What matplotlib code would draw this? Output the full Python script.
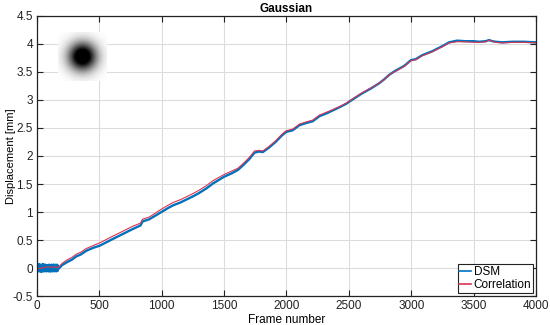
import numpy as np
import matplotlib
matplotlib.use('Agg')
import matplotlib.pyplot as plt
from matplotlib.lines import Line2D

plt.rcParams['font.family'] = ['Liberation Sans', 'DejaVu Sans']

# Correlation curve (red)
corr_frames = [0, 20, 40, 60, 80, 100, 120, 140, 160, 175, 200, 237, 280, 317, 350, 397,
               450, 504, 600, 700, 771, 830, 845, 900, 997, 1050, 1091, 1150, 1251, 1300,
               1357, 1411, 1500, 1560, 1610, 1650, 1700, 1744, 1780, 1810, 1860, 1917, 1960,
               1997, 2050, 2104, 2160, 2210, 2264, 2330, 2424, 2477, 2517, 2600, 2680, 2744,
               2784, 2824, 2864, 2944, 2997, 3037, 3088, 3168, 3248, 3304, 3368, 3432, 3500,
               3544, 3597, 3624, 3650, 3677, 3730, 3810, 3900, 4000]
corr_vals = [0.0, -0.01, 0.0, 0.01, 0.02, 0.02, 0.01, 0.02, 0.01, 0.02, 0.08, 0.14, 0.19,
             0.25, 0.28, 0.35, 0.40, 0.45, 0.56, 0.67, 0.75, 0.80, 0.87, 0.91, 1.05, 1.12,
             1.17, 1.22, 1.33, 1.39, 1.47, 1.56, 1.67, 1.73, 1.78, 1.86, 1.97, 2.09, 2.10,
             2.09, 2.17, 2.28, 2.38, 2.45, 2.48, 2.57, 2.61, 2.64, 2.73, 2.79, 2.88, 2.94,
             3.00, 3.12, 3.22, 3.30, 3.37, 3.45, 3.50, 3.60, 3.70, 3.72, 3.79, 3.86, 3.95,
             4.02, 4.04, 4.04, 4.03, 4.03, 4.04, 4.07, 4.05, 4.03, 4.02, 4.03, 4.03, 4.02]

# DSM curve (blue): noisy start (one value every 2 frames), then tracking
dsm_noise = [0.04, -0.05, 0.06, -0.03, 0.05, -0.06, 0.02, -0.04, 0.07, -0.05, 0.03,
             -0.06, 0.05, -0.02, 0.06, -0.05, 0.04, -0.07, 0.05, -0.03, 0.06, -0.04,
             0.03, -0.06, 0.07, -0.05, 0.02, -0.04, 0.06, -0.06, 0.04, -0.03, 0.05,
             -0.05, 0.06, -0.04, 0.03, -0.06, 0.05, -0.03, 0.04, -0.05, 0.03,
             -0.04, 0.05, -0.06, 0.03, -0.05, 0.06, -0.02, 0.05, -0.06, 0.04, -0.05,
             0.02, -0.06, 0.05, -0.04, 0.06, -0.03, 0.04, -0.06, 0.05, -0.05, 0.03,
             -0.04, 0.06, -0.05, 0.04, -0.06, 0.05, -0.03, 0.06, -0.05, 0.04, -0.04,
             0.05, -0.06, 0.03, -0.05, 0.06, -0.04, 0.05, -0.05, 0.03, -0.02]
dsm_frames = [200, 237, 280, 317, 350, 397, 450, 504, 600, 700, 771, 830, 845, 900, 997,
              1050, 1091, 1150, 1251, 1300, 1357, 1411, 1500, 1560, 1610, 1650, 1700, 1744,
              1780, 1810, 1860, 1917, 1960, 1997, 2050, 2104, 2160, 2210, 2264, 2330, 2424,
              2477, 2517, 2600, 2680, 2744, 2784, 2824, 2864, 2944, 2997, 3037, 3088, 3168,
              3248, 3304, 3368, 3432, 3500, 3544, 3597, 3624, 3650, 3677, 3730, 3810, 3900,
              4000]
dsm_vals = [0.05, 0.10, 0.15, 0.21, 0.24, 0.31, 0.36, 0.40, 0.51, 0.62, 0.70, 0.76, 0.83,
            0.87, 1.00, 1.07, 1.12, 1.17, 1.28, 1.34, 1.42, 1.51, 1.63, 1.69, 1.75, 1.83,
            1.94, 2.06, 2.08, 2.07, 2.15, 2.26, 2.36, 2.43, 2.46, 2.55, 2.59, 2.62, 2.71,
            2.77, 2.87, 2.93, 2.99, 3.11, 3.21, 3.30, 3.37, 3.45, 3.51, 3.61, 3.71, 3.73,
            3.80, 3.87, 3.96, 4.03, 4.06, 4.05, 4.05, 4.04, 4.05, 4.07, 4.05, 4.04, 4.03,
            4.04, 4.04, 4.03]
dsm_x = list(np.arange(0, 2 * len(dsm_noise), 2)) + dsm_frames
dsm_y = dsm_noise + dsm_vals

blue = '#0072BD'
red = '#DC3350'

fig = plt.figure(figsize=(5.5, 3.25), dpi=100)
ax = fig.add_axes([0.0673, 0.0892, 0.9072, 0.8616])

ax.plot(dsm_x, dsm_y, color=blue, lw=1.7, label='DSM')
ax.plot(corr_frames, corr_vals, color=red, lw=0.8, label='Correlation')

ax.set_xlim(0, 4000)
ax.set_ylim(-0.5, 4.5)
ax.set_xticks(np.arange(0, 4001, 500))
ax.set_yticks(np.arange(-0.5, 4.51, 0.5))
ax.set_yticklabels(['-0.5', '0', '0.5', '1', '1.5', '2', '2.5', '3', '3.5', '4', '4.5'])
ax.grid(True, color='#dcdcdc', lw=0.8)
ax.set_axisbelow(True)
ax.tick_params(direction='in', top=True, right=True, labelsize=8.5, length=4,
               width=0.8, pad=3, colors='#222222')
for s in ax.spines.values():
    s.set_linewidth(0.9)
    s.set_color('#222222')
ax.set_xlabel('Frame number', fontsize=8.5, labelpad=1)
ax.set_ylabel('Displacement [mm]', fontsize=8)
ax.yaxis.set_label_coords(-0.043, 0.5)
ax.set_title('Gaussian', fontsize=8.5, fontweight='bold', pad=3)

handles = [Line2D([], [], color=blue, lw=1.2), Line2D([], [], color=red, lw=1.2)]
leg = ax.legend(handles, ['DSM', 'Correlation'], loc='lower right', fontsize=8.5,
                fancybox=False, edgecolor='#222222', framealpha=1, borderpad=0.15,
                handlelength=1.0, handletextpad=0.2, labelspacing=0.1,
                borderaxespad=0.25)
leg.get_frame().set_linewidth(0.8)

# Gaussian spot inset
inset = fig.add_axes([0.105, 0.752, 0.088, 0.149])
g = np.linspace(-1, 1, 101)
xx, yy = np.meshgrid(g, g)
spot = 1 - 1.3 * np.exp(-(xx ** 2 + yy ** 2) / (2 * 0.40 ** 2))
inset.imshow(spot, cmap='gray', vmin=0, vmax=1, interpolation='bilinear')
inset.axis('off')

fig.savefig('out.png', dpi=100)
